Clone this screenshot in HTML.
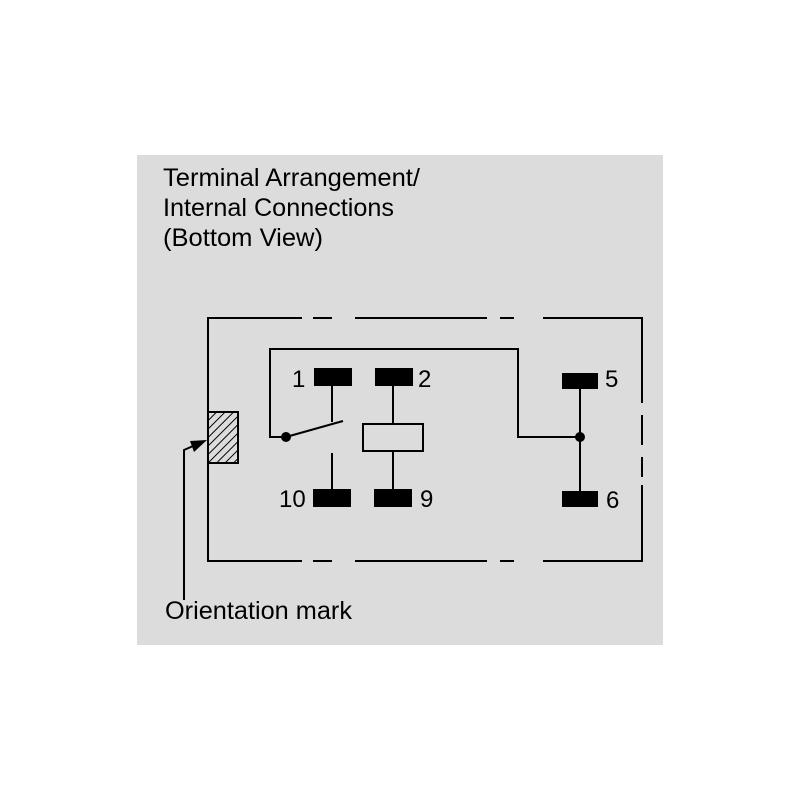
<!DOCTYPE html>
<html><head><style>
html,body{margin:0;padding:0;background:#fff;}
svg{display:block}
text{font-family:"Liberation Sans",Arial,sans-serif;fill:#000}
</style></head><body>
<svg width="800" height="800" viewBox="0 0 800 800" xmlns="http://www.w3.org/2000/svg">
<defs>
<pattern id="h" width="6" height="6" patternUnits="userSpaceOnUse" patternTransform="rotate(45)">
<rect width="6" height="6" fill="#dcdcdc"/><line x1="0" y1="0" x2="0" y2="6" stroke="#000" stroke-width="2"/>
</pattern>
</defs>
<rect x="137" y="155" width="526" height="490" fill="#dcdcdc"/>
<text x="163" y="186" font-size="25" textLength="257" lengthAdjust="spacingAndGlyphs">Terminal Arrangement/</text>
<text x="163" y="216" font-size="25" textLength="231" lengthAdjust="spacingAndGlyphs">Internal Connections</text>
<text x="163" y="246" font-size="25" textLength="160" lengthAdjust="spacingAndGlyphs">(Bottom View)</text>
<g stroke="#000" stroke-width="2" fill="none">
<path d="M302 318 H208 V561 H302"/>
<path d="M313 318 H332 M355 318 H487 M500 318 H514 M543 318 H642 V403 M642 415 V445 M642 457 V477 M642 485 V561 H543 M514 561 H500 M487 561 H355 M332 561 H313"/>
<path d="M286 437 H270 V349 H518 V437 H580"/>
<path d="M286 437 L343 421"/>
<path d="M332 386 V422"/>
<path d="M332 453 V489"/>
<path d="M393 386 V424 M393 451 V489"/>
<path d="M580 389 V491"/>
<rect x="363" y="424" width="60" height="27"/>
<path d="M184 600 V450 L200 443"/>
</g>
<rect x="208" y="412" width="30" height="51" fill="url(#h)" stroke="#000" stroke-width="2"/>
<polygon points="207,440 190,441 194,452" fill="#000"/>
<circle cx="286" cy="437" r="5" fill="#000"/>
<circle cx="580" cy="437" r="5" fill="#000"/>
<g fill="#000">
<rect x="314" y="368" width="38" height="18"/>
<rect x="375" y="368" width="38" height="18"/>
<rect x="313" y="489" width="38" height="18"/>
<rect x="374" y="489" width="38" height="18"/>
<rect x="562" y="373" width="36" height="16"/>
<rect x="562" y="491" width="36" height="16"/>
</g>
<text x="292" y="387" font-size="24">1</text>
<text x="418" y="387" font-size="24">2</text>
<text x="605" y="387" font-size="24">5</text>
<text x="279" y="507" font-size="24">10</text>
<text x="420" y="507" font-size="24">9</text>
<text x="606" y="508" font-size="24">6</text>
<text x="165" y="619" font-size="25" textLength="187" lengthAdjust="spacingAndGlyphs">Orientation mark</text>
</svg>
</body></html>
